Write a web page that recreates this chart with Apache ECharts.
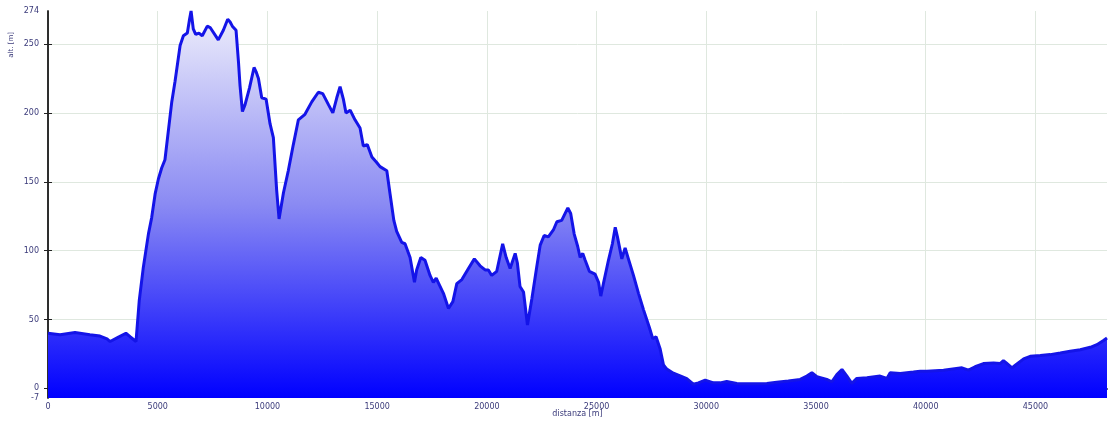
<!DOCTYPE html>
<html>
<head>
<meta charset="utf-8">
<title>profilo altimetrico</title>
<script src="https://cdn.jsdelivr.net/npm/echarts@6/dist/echarts.min.js"></script>
<style>
  html, body { margin: 0; padding: 0; background: #fff; }
  #chart { width: 1112px; height: 421px; }
</style>
</head>
<body>
<div id="chart"></div>
<script>
const distanza = [
  0, 550, 1230, 1910, 2370, 2690, 2830, 3190, 3550, 3740, 4010, 4160, 4345, 4575, 4725, 4880,
  5030, 5180, 5330, 5640, 5790, 6020, 6170, 6350, 6440, 6520, 6620, 6730, 6880, 7030, 7260, 7390,
  7760, 7990, 8190, 8300, 8400, 8570, 8680, 8750, 8860, 8980, 9180, 9390, 9480, 9590, 9740, 9940,
  10120, 10270, 10420, 10530, 10730, 10950, 11180, 11410, 11710, 12020, 12320, 12520, 12780, 12980,
  13160, 13310, 13460, 13580, 13770, 13990, 14220, 14370, 14550, 14760, 14980, 15130, 15440, 15590,
  15760, 15890, 16120, 16270, 16500, 16700, 16800, 16990, 17180, 17410, 17560, 17690, 17840, 18020,
  18250, 18450, 18630, 18860, 19160, 19430, 19690, 19920, 20070, 20220, 20450, 20720, 20880, 21060,
  21290, 21390, 21510, 21670, 21850, 22050, 22270, 22430, 22610, 22800, 23030, 23190, 23410, 23690,
  23820, 23980, 24140, 24250, 24370, 24480, 24670, 24930, 25090, 25190, 25310, 25540, 25720, 25850,
  25950, 26150, 26300, 26450, 26680, 26910, 27140, 27410, 27560, 27710, 27890, 28050, 28200, 28500,
  28810, 29110, 29410, 29640, 29950, 30330, 30630, 30930, 31390, 31540, 32150, 32760, 33210, 33740,
  34280, 34580, 34810, 35040, 35490, 35720, 35950, 36180, 36400, 36630, 36860, 37320, 37920, 38230,
  38380, 38840, 39440, 39750, 40050, 40810, 41650, 41950, 42250, 42630, 43090, 43390, 43540, 43670,
  43930, 44080, 44460, 44760, 45220, 45670, 46130, 46580, 47040, 47500, 47800, 48100, 48260
]
const quota = [
  40, 39, 40.5, 39, 38, 36, 34, 37, 40, 37.5, 34, 64, 88, 112, 124, 141,
  152, 160, 166, 208, 223, 249, 256, 258, 267, 274, 261, 257, 258, 256, 263, 262,
  253, 260, 268, 266, 263, 260, 237, 220, 201, 206, 218, 233, 230, 225, 211, 210,
  192, 182, 144, 123, 142, 158, 177, 195, 199, 208, 215, 214, 206, 200,
  211, 219, 210, 200, 202, 195, 189, 176, 177, 168, 164, 161, 158, 141,
  122, 114, 106, 105, 95, 77, 86, 95, 93, 82, 77, 80, 75, 69,
  58, 63, 76, 79, 87, 94, 89, 86, 86, 82, 85, 105, 95, 87,
  98, 91, 74, 70, 46, 65, 88, 104, 111, 110, 115, 121, 122, 131,
  127, 112, 103, 95, 98, 93, 85, 83, 77, 67, 76, 93, 105, 117,
  110, 94, 102, 94, 82, 69, 57, 44, 36, 37.5, 29, 17, 14, 11,
  9, 7, 3, 4, 6, 4, 4, 5, 3.5, 3.4, 3.4, 3.6, 4.5, 5.3,
  6.5, 9, 11.3, 8.4, 6.5, 4.8, 10, 13.7, 9, 3.6, 7.2, 7.7, 8.9, 7.2,
  11.3, 10.8, 11.8, 12.5, 12.5, 13.2, 14.9, 13.2, 15.7, 18, 18.5, 18, 20.2, 18.5,
  14.9, 16.8, 21.4, 23.3, 23.8, 24.5, 25.7, 26.9, 28, 29.8, 31.7, 34.8, 36.6
]
// etichette degli assi
const tickX = [0, 5000, 10000, 15000, 20000, 25000, 30000, 35000, 40000, 45000]
const tickY = [0, 50, 100, 150, 200, 250]
const labelY = [-7, 0, 50, 100, 150, 200, 250, 274]

const chart = echarts.init(document.getElementById('chart'))
const labelColor = '#3a3a7a'
const frameColor = '#222'
const gridColor = '#dfe8df'

const option = {
  animation: false,
  backgroundColor: '#fff',
  grid: { left: 48, right: 5, top: 11, bottom: 23, outerBoundsMode: 'none', containLabel: false },
  graphic: [
    {
      type: 'text',
      left: 8,
      top: 32,
      rotation: Math.PI / 2,
      style: { text: 'alt. [m]', fill: labelColor, font: '7px "DejaVu Sans"' }
    }
  ],
  xAxis: [
    {
      type: 'value',
      min: 0,
      max: 48260,
      name: 'distanza [m]',
      nameLocation: 'middle',
      nameGap: 12,
      nameMoveOverlap: false,
      nameTextStyle: { color: labelColor, fontSize: 8, fontFamily: 'DejaVu Sans' },
      axisLine: { show: true, lineStyle: { color: frameColor, width: 1.5 } },
      axisTick: { show: true, inside: true, length: 4, customValues: tickX, lineStyle: { color: frameColor } },
      axisLabel: {
        customValues: tickX,
        formatter: v => String(v),
        color: labelColor,
        fontSize: 8,
        fontFamily: 'DejaVu Sans',
        margin: 5
      },
      splitLine: { show: true, lineStyle: { color: gridColor, width: 1 } }
    },
    {
      type: 'value',
      position: 'top',
      min: 0,
      max: 48260,
      axisLine: { show: true, lineStyle: { color: frameColor, width: 1.5 } },
      axisTick: { show: true, inside: true, length: 4, customValues: tickX, lineStyle: { color: frameColor } },
      axisLabel: { show: false },
      splitLine: { show: false }
    }
  ],
  yAxis: [
    {
      type: 'value',
      min: -7,
      max: 274,
      axisLine: { show: true, lineStyle: { color: frameColor, width: 1.5 } },
      axisTick: { show: true, inside: true, length: 4, customValues: tickY, lineStyle: { color: frameColor } },
      axisLabel: { customValues: labelY, color: labelColor, fontSize: 8, fontFamily: 'DejaVu Sans', margin: 9 },
      splitLine: { show: true, lineStyle: { color: gridColor, width: 1 } }
    },
    {
      type: 'value',
      position: 'right',
      min: -7,
      max: 274,
      axisLine: { show: true, lineStyle: { color: frameColor, width: 1.5 } },
      axisTick: { show: true, inside: true, length: 4, customValues: tickY, lineStyle: { color: frameColor } },
      axisLabel: { show: false },
      splitLine: { show: false }
    }
  ],
  series: [
    {
      type: 'line',
      data: distanza.map((d, i) => [d, quota[i]]),
      showSymbol: false,
      smooth: false,
      lineStyle: { color: '#1414e8', width: 3 },
      areaStyle: {
        origin: 'start',
        opacity: 1,
        color: new echarts.graphic.LinearGradient(0, 0, 0, 1, [
          { offset: 0, color: '#efeffb' },
          { offset: 0.5, color: '#8a8af3' },
          { offset: 1, color: '#0000ff' }
        ])
      },
      z: 1
    }
  ]
}
chart.setOption(option)
</script>
</body>
</html>
